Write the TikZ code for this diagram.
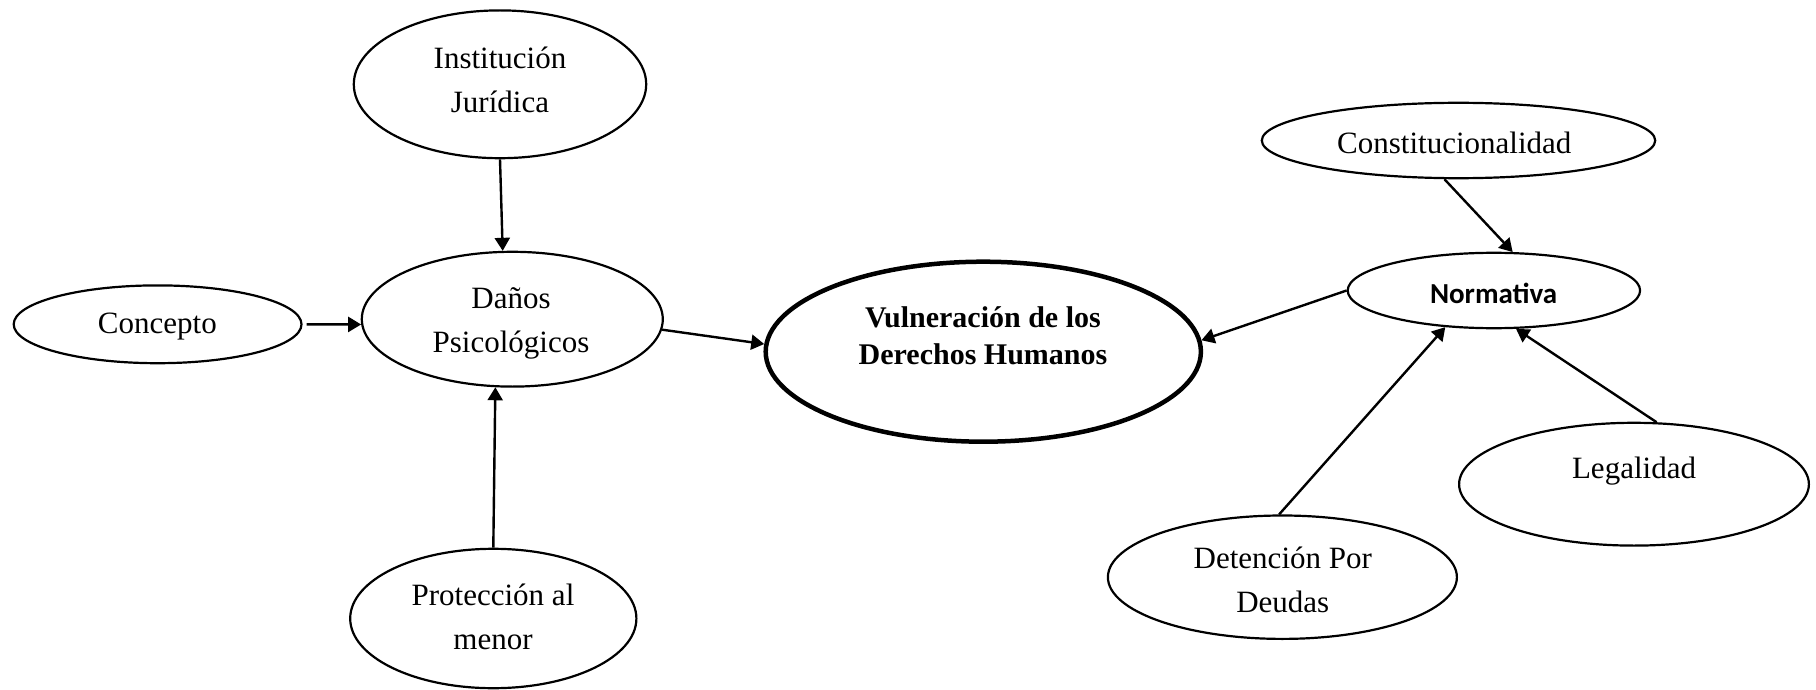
\documentclass[tikz,border=0pt]{standalone}
\usepackage{fontspec}
\setmainfont{Liberation Serif}
\newfontfamily\calibri{Carlito}
\usetikzlibrary{shapes.geometric,arrows.meta}
\begin{document}
\begin{tikzpicture}[x=0.5pt,y=-0.5pt,
  oval/.style={draw, ellipse, line width=1.1pt, inner sep=0pt},
  txt/.style={align=center, font=\fontsize{15.5}{22}\selectfont, inner sep=0pt, yshift=-1.6pt},
  conn/.style={line width=1.2pt, -{Triangle[length=6.5pt,width=7.5pt]}}
]
\useasboundingbox (0,0) rectangle (1816,690);
% ellipses
\node[oval, minimum width=146.2pt, minimum height=73.9pt] (inst) at (500,84.3) {};
\node[oval, minimum width=150.5pt, minimum height=67.4pt] (danos) at (512.3,319.2) {};
\node[oval, minimum width=143.9pt, minimum height=38.9pt] (concepto) at (157.6,324.3) {};
\node[oval, minimum width=143.1pt, minimum height=69.7pt] (prot) at (493.3,618.5) {};
\node[oval, line width=2.25pt, minimum width=217.6pt, minimum height=90pt] (vuln) at (983.3,351.7) {};
\node[oval, minimum width=196.7pt, minimum height=37.7pt] (const) at (1458.5,140.5) {};
\node[oval, minimum width=146.2pt, minimum height=37.7pt] (norm) at (1493.9,290.5) {};
\node[oval, minimum width=174.9pt, minimum height=61.4pt] (leg) at (1634,484.2) {};
\node[oval, minimum width=174.5pt, minimum height=61.7pt] (det) at (1282.4,577.2) {};
% texts
\node[txt] (tinst) at (500,76.5) {Institución\\Jurídica};
\node[txt] (tdanos) at (511,320.5) {Daños\\Psicológicos};
\node[txt] (tconcepto) at (157.4,323.3) {Concepto};
\node[txt] (tprot) at (493,614) {Protección al\\menor};
\node[txt, font=\fontsize{15}{18.5}\selectfont\bfseries] (tvuln) at (983,333) {Vulneración de los\\Derechos Humanos};
\node[txt] (tconst) at (1454.3,140) {Constitucionalidad};
\node[txt, font=\fontsize{14.5}{17}\selectfont\calibri\bfseries] (tnorm) at (1493.6,290.7) {Normativa};
\node[txt] (tleg) at (1634,468.3) {Legalidad};
\node[txt] (tdet) at (1282.8,577) {Detención Por\\Deudas};
% connectors
\draw[conn] (inst.270) -- (danos.98.5);
\draw[conn, shorten <=2pt] (concepto.east) -- (danos.182);
\draw[conn] (prot.north) -- (danos.256);
\draw[conn] (danos.356) -- (vuln.178);
\draw[conn] (norm.180) -- (vuln.3);
\draw[conn] (const.250) -- (norm.64);
\draw[conn] (det.93) -- (norm.217.5);
\draw[conn] (leg.70) -- (norm.300);
\end{tikzpicture}
\end{document}
